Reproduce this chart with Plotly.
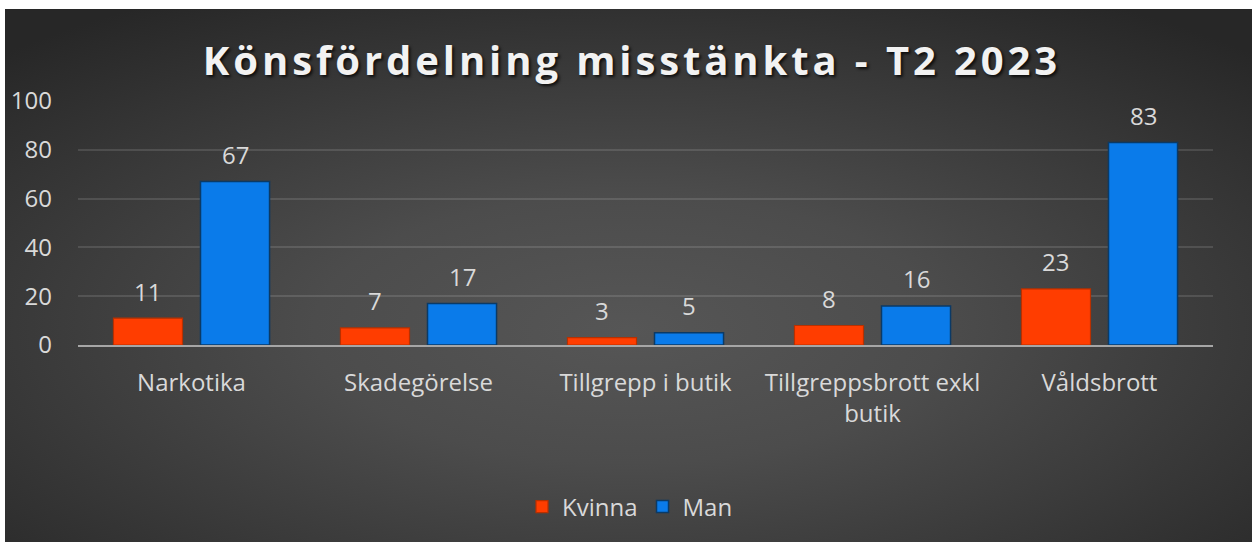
import base64
import plotly.graph_objects as go

# Chart data
categories = ["Narkotika", "Skadegörelse", "Tillgrepp i butik",
              "Tillgreppsbrott exkl<br>butik", "Våldsbrott"]
kvinna = [11, 7, 3, 8, 23]
man = [67, 17, 5, 16, 83]
y_ticks = [0, 20, 40, 60, 80, 100]
title_text = "Könsfördelning misstänkta - T2 2023"

W, H = 1252, 542
M_L, M_R, M_T, M_B = 78, 39, 101, 197
BARGAP = 0.233
GROUPGAP = 0.207

ORANGE = "#FF3D00"
BLUE = "#0A7BEA"
TXT = "#D9D9D9"
FS = 24

fig = go.Figure()
fig.add_bar(name="Kvinna", x=categories, y=kvinna,
            marker=dict(color=ORANGE, line=dict(color="#B83000", width=1.2)))
fig.add_bar(name="Man", x=categories, y=man,
            marker=dict(color=BLUE, line=dict(color="#0B3A66", width=1.5)))

# value labels above each bar, placed at the bar centres
slot = (1 - BARGAP) / 2
for i in range(len(categories)):
    for series, off in ((kvinna, -slot / 2), (man, slot / 2)):
        fig.add_annotation(x=i + off, y=series[i], text=str(series[i]),
                           xref="x", yref="y", showarrow=False,
                           yanchor="middle", yshift=27,
                           font=dict(family="Open Sans", size=FS, color=TXT))

# dark radial background
svg = f"""<svg xmlns='http://www.w3.org/2000/svg' width='1247' height='533' preserveAspectRatio='none'>
<defs><radialGradient id='g' cx='50%' cy='60%' r='72%'>
<stop offset='0' stop-color='#565656'/>
<stop offset='0.35' stop-color='#4c4c4c'/>
<stop offset='1' stop-color='#272727'/>
</radialGradient></defs>
<rect width='1247' height='533' fill='url(#g)'/></svg>"""
src = "data:image/svg+xml;base64," + base64.b64encode(svg.encode()).decode()
pw, ph = W - M_L - M_R, H - M_T - M_B
fig.add_layout_image(source=src, xref="paper", yref="paper",
                     x=(5 - M_L) / pw, y=(H - M_B - 9) / ph,
                     sizex=(W - 5) / pw, sizey=(H - 9) / ph,
                     xanchor="left", yanchor="top", sizing="stretch",
                     layer="below")

fig.update_layout(
    width=W, height=H,
    margin=dict(l=M_L, r=M_R, t=M_T, b=M_B, pad=0),
    paper_bgcolor="white", plot_bgcolor="rgba(0,0,0,0)",
    barmode="group", bargap=BARGAP, bargroupgap=GROUPGAP,
    title=dict(text=title_text, x=(632 - M_L) / pw, xanchor="center",
               xref="paper",
               y=(H - 75) / H, yanchor="bottom", yref="container",
               font=dict(family="Open Sans", size=40, color="#F2F2F2",
                         weight="bold", shadow="2px 2px 3px rgba(0,0,0,0.75)")),
    font=dict(family="Open Sans", size=FS, color=TXT),
    showlegend=True,
    legend=dict(orientation="h", x=(630 - M_L) / pw, xanchor="center",
                y=(H - M_B - 507) / ph, yanchor="middle",
                font=dict(size=FS, color=TXT), bgcolor="rgba(0,0,0,0)",
                itemclick=False, itemwidth=30),
)
fig.update_yaxes(range=[0, 100], tickvals=y_ticks, showgrid=True,
                 gridcolor="rgba(255,255,255,0.12)", gridwidth=1.5,
                 zeroline=False, showline=False, ticks="",
                 ticklabelstandoff=25,
                 tickfont=dict(family="Open Sans", size=FS, color=TXT))
fig.update_xaxes(showline=True, linecolor="#A6A6A6", linewidth=2,
                 ticks="", ticklabelstandoff=15,
                 tickfont=dict(family="Open Sans", size=FS, color=TXT))

# widen the title's tracking
post = """
var gd = document.getElementById('{plot_id}');
var t = gd ? gd.querySelector('.gtitle') : null;
if (t) { t.style.letterSpacing = '3.9px'; }
"""
fig.write_html("out.html", post_script=post)
